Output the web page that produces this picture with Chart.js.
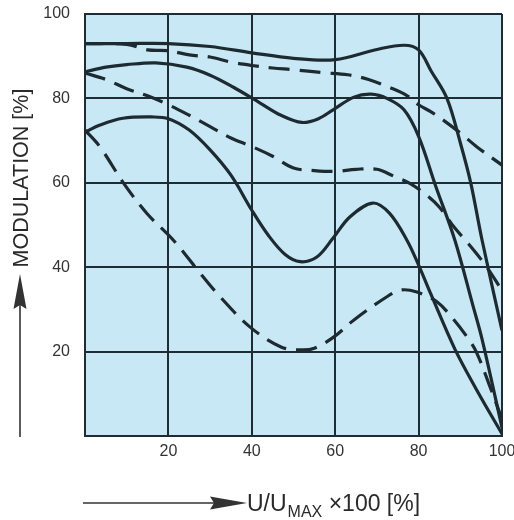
<!DOCTYPE html>
<html><head><meta charset="utf-8">
<script src="https://cdn.jsdelivr.net/npm/chart.js@4"></script>
<style>html,body{margin:0;padding:0;background:#fff}#wrap{width:514px;height:520px}</style>
</head><body><div id="wrap"><canvas id="c" width="514" height="520"></canvas></div>
<script>
// Tick values
const xTicks = [20, 40, 60, 80, 100];
const yTicks = [20, 40, 60, 80, 100];

// Solid curves
const solidTopX = [0, 10, 20, 30, 40, 50, 60, 70, 76.5, 80, 83, 86.8, 90, 92.5, 95.2, 100];
const solidTopY = [93, 93, 93, 92.3, 90.8, 89.5, 89.2, 91.6, 92.6, 91.5, 86.5, 80, 69.5, 60, 46.5, 25];

const solidMidX = [0, 5, 10, 17, 24.4, 30, 35.5, 42, 47, 52, 56, 59.5, 64.5, 68.6, 72.4, 76.5, 80, 84, 88.7, 93, 95.2, 100];
const solidMidY = [86.3, 87.4, 88, 88.4, 87.4, 85.5, 82.7, 78.9, 76, 74.3, 75.2, 77.3, 80.3, 81, 80, 77.3, 71, 59.5, 46.4, 31, 23, 2];

const solidLowX = [0, 3.6, 9.1, 16, 20, 25, 30, 35, 40, 44, 48, 51.6, 55.6, 59.5, 63.5, 69, 73, 77.2, 80, 83, 88.7, 94, 100];
const solidLowY = [72, 73.7, 75.3, 75.6, 75.2, 72.5, 67.8, 61.8, 53.5, 47.5, 43, 41.3, 42.4, 46.9, 51.9, 55.2, 52.8, 46.4, 40.5, 33.5, 20.6, 10.8, 0.5];

// Dashed curves
const dashTopX = [0, 10, 15, 20, 25, 30, 35, 40, 45, 50, 57, 63, 68, 73, 77, 80, 83, 86, 90, 94, 100];
const dashTopY = [93, 92.8, 91.5, 91.3, 90.3, 89.8, 88.6, 87.8, 87.2, 86.8, 86.1, 85.6, 84.5, 82.6, 80.8, 78.5, 76.8, 74.8, 71.8, 68.5, 64.2];

const dashMidX = [0, 5, 10, 15, 20, 25, 30, 35, 40, 45, 50, 55, 60, 65, 70, 74, 78, 82, 85, 88.5, 92, 96, 100];
const dashMidY = [86, 84.5, 82.3, 80.6, 78.5, 76, 73.3, 70.6, 68.6, 66.3, 63.5, 62.9, 62.7, 63.2, 63.2, 61.6, 59.8, 57, 54.2, 49.5, 45.5, 40.5, 34.5];

const dashLowX = [0, 3.6, 9.2, 14.8, 21.2, 27.6, 32.4, 39.6, 47, 51.8, 55, 59.7, 64.5, 72.4, 75.8, 79.6, 84.4, 88.5, 91.6, 93.8, 97, 100];
const dashLowY = [72.5, 68.5, 60, 52.8, 46.4, 38.6, 33, 25.8, 21.1, 20.4, 20.8, 23.5, 27.5, 33, 34.6, 34.1, 31.8, 27.5, 23.5, 20, 12, 4];

const yTitle = 'MODULATION [%]';
const xTitleMain = 'U/U';
const xTitleSub = 'MAX';
const xTitleTail = ' \u00D7100 [%]';

const INK = '#1d2b31';
const GRID = '#1f2c33';
const BG = '#c9e8f6';

function pts(xs, ys) { return xs.map((x, i) => ({x: x, y: ys[i]})); }
function ds(xs, ys, dashed) {
  return {
    data: pts(xs, ys),
    borderColor: INK,
    borderWidth: 3.2,
    borderDash: dashed ? [21, 10] : [],
    pointRadius: 0,
    fill: false,
    tension: 0.35,
    borderCapStyle: 'butt'
  };
}

const bgPlugin = {
  id: 'bg',
  beforeDraw(chart) {
    const a = chart.chartArea, c = chart.ctx;
    c.save(); c.fillStyle = BG; c.fillRect(a.left, a.top, a.right - a.left, a.bottom - a.top); c.restore();
  }
};

const decoPlugin = {
  id: 'deco',
  afterDraw(chart) {
    const c = chart.ctx;
    c.save();
    c.strokeStyle = '#333'; c.fillStyle = '#333'; c.lineWidth = 1.6;
    // vertical arrow
    c.beginPath(); c.moveTo(20, 437); c.lineTo(20, 300); c.stroke();
    c.beginPath(); c.moveTo(20, 274); c.lineTo(13.5, 309); c.lineTo(20, 305); c.lineTo(26.5, 309); c.closePath(); c.fill();
    // horizontal arrow
    c.beginPath(); c.moveTo(83, 503); c.lineTo(220, 503); c.stroke();
    c.beginPath(); c.moveTo(247, 503); c.lineTo(210, 496.5); c.lineTo(214, 503); c.lineTo(210, 509.5); c.closePath(); c.fill();
    // y title
    c.fillStyle = '#2a2a2a';
    c.font = '21.5px "Liberation Sans", Arial, sans-serif';
    c.translate(27.5, 178); c.rotate(-Math.PI / 2);
    c.textAlign = 'center'; c.textBaseline = 'alphabetic';
    c.fillText(yTitle, 0, 0);
    c.setTransform(1, 0, 0, 1, 0, 0);
    // x title
    c.textAlign = 'left';
    c.font = '23px "Liberation Sans", Arial, sans-serif';
    let x = 247;
    c.fillText(xTitleMain, x, 511);
    x += c.measureText(xTitleMain).width;
    c.font = '16px "Liberation Sans", Arial, sans-serif';
    c.fillText(xTitleSub, x + 1, 517);
    x += c.measureText(xTitleSub).width + 1;
    c.font = '23px "Liberation Sans", Arial, sans-serif';
    c.fillText(xTitleTail, x, 511);
    c.restore();
  }
};

const tickFont = {family: '"Liberation Sans", Arial, sans-serif', size: 16};

new Chart(document.getElementById('c'), {
  type: 'line',
  data: {
    datasets: [
      ds(solidTopX, solidTopY, false),
      ds(solidMidX, solidMidY, false),
      ds(solidLowX, solidLowY, false),
      ds(dashTopX, dashTopY, true),
      ds(dashMidX, dashMidY, true),
      ds(dashLowX, dashLowY, true)
    ]
  },
  options: {
    responsive: false,
    animation: false,
    devicePixelRatio: 1,
    layout: {padding: {top: 14, right: 12, left: 0, bottom: 0}},
    plugins: {legend: {display: false}, tooltip: {enabled: false}},
    scales: {
      x: {
        type: 'linear', min: 0, max: 100,
        afterBuildTicks: s => { s.ticks = [0].concat(xTicks).map(v => ({value: v})); },
        ticks: {callback: v => v === 0 ? '' : String(v), font: tickFont, color: '#333', padding: 6, maxRotation: 0, autoSkip: false},
        grid: {color: GRID, lineWidth: 2, drawTicks: false},
        border: {display: true, color: GRID, width: 2},
        afterFit: s => { s.height = 84; s.paddingLeft = 0; s.paddingRight = 0; }
      },
      y: {
        type: 'linear', min: 0, max: 100,
        afterBuildTicks: s => { s.ticks = [0].concat(yTicks).map(v => ({value: v})); },
        ticks: {callback: v => v === 0 ? '' : String(v), font: tickFont, color: '#333', padding: 15, autoSkip: false},
        grid: {color: GRID, lineWidth: 2, drawTicks: false},
        border: {display: true, color: GRID, width: 2},
        afterFit: s => { s.width = 85; s.paddingTop = 0; s.paddingBottom = 0; }
      }
    }
  },
  plugins: [bgPlugin, decoPlugin]
});
</script></body></html>
